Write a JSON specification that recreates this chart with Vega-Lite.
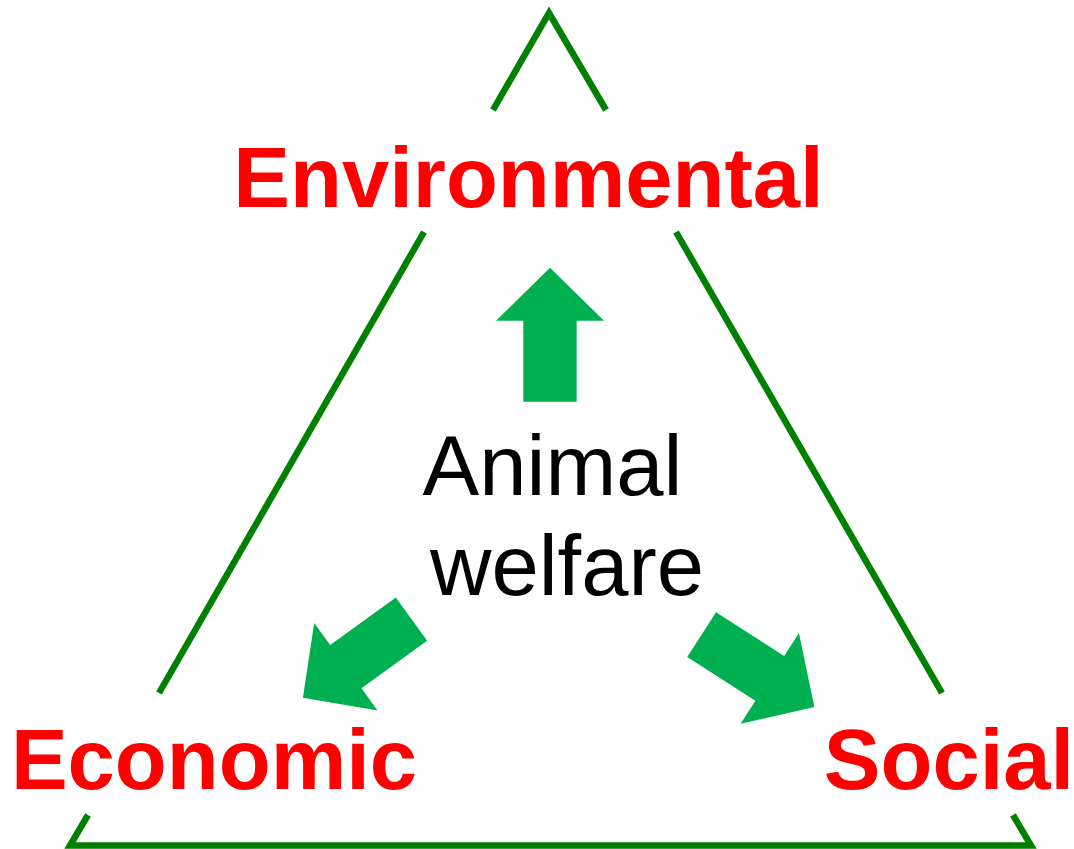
{
  "$schema": "https://vega.github.io/schema/vega-lite/v6.json",
  "autosize": {"type": "none"},
  "width": 1074,
  "height": 849,
  "padding": 0,
  "background": "white",
  "config": {"view": {"stroke": null}},
  "datasets": {
    "segs": [
      {"path": "a", "k": 1, "x": 493, "y": 110},
      {"path": "a", "k": 2, "x": 549, "y": 13},
      {"path": "a", "k": 3, "x": 606, "y": 110},
      {"path": "b", "k": 1, "x": 424, "y": 232},
      {"path": "b", "k": 2, "x": 159, "y": 693},
      {"path": "c", "k": 1, "x": 676, "y": 232},
      {"path": "c", "k": 2, "x": 942, "y": 693},
      {"path": "d", "k": 1, "x": 88, "y": 815},
      {"path": "d", "k": 2, "x": 70, "y": 845.5},
      {"path": "d", "k": 3, "x": 1031, "y": 845.5},
      {"path": "d", "k": 4, "x": 1013, "y": 815}
    ],
    "arrows": [
      {"name": "up", "x": 550, "y": 334.7, "rot": 0},
      {"name": "left", "x": 357.2, "y": 658.5, "rot": 234.1},
      {"name": "right", "x": 758, "y": 670.8, "rot": 122.7}
    ],
    "labels": [
      {"label": "Environmental", "x": 528.5, "y": 207},
      {"label": "Economic", "x": 214, "y": 789},
      {"label": "Social", "x": 949, "y": 789}
    ],
    "center": [
      {"label": "Animal", "x": 552.5, "y": 495},
      {"label": "welfare", "x": 567, "y": 595}
    ]
  },
  "encoding": {
    "x": {"field": "x", "type": "quantitative", "scale": {"domain": [0, 1074], "nice": false, "zero": false}, "axis": null},
    "y": {"field": "y", "type": "quantitative", "scale": {"domain": [0, 849], "nice": false, "zero": false, "reverse": true}, "axis": null}
  },
  "layer": [
    {
      "data": {"name": "segs"},
      "mark": {"type": "line", "stroke": "#008000", "strokeWidth": 6.5, "strokeJoin": "miter", "strokeCap": "butt"},
      "encoding": {
        "detail": {"field": "path", "type": "nominal"},
        "order": {"field": "k", "type": "quantitative"}
      }
    },
    {
      "data": {"name": "arrows"},
      "mark": {"type": "point", "filled": true, "fill": "#00B050", "fillOpacity": 1, "strokeWidth": 0, "size": 17956, "shape": "M0,-1L0.806,-0.209L0.398,-0.209L0.398,1L-0.398,1L-0.398,-0.209L-0.806,-0.209Z"},
      "encoding": {
        "angle": {"field": "rot", "type": "quantitative", "scale": null}
      }
    },
    {
      "data": {"name": "labels"},
      "mark": {"type": "text", "font": "Liberation Sans", "fontWeight": "bold", "fontSize": 85, "fill": "#FF0000", "align": "center", "baseline": "alphabetic"},
      "encoding": {"text": {"field": "label", "type": "nominal"}}
    },
    {
      "data": {"name": "center"},
      "mark": {"type": "text", "font": "Liberation Sans", "fontSize": 85, "fill": "#000000", "align": "center", "baseline": "alphabetic"},
      "encoding": {"text": {"field": "label", "type": "nominal"}}
    }
  ]
}
